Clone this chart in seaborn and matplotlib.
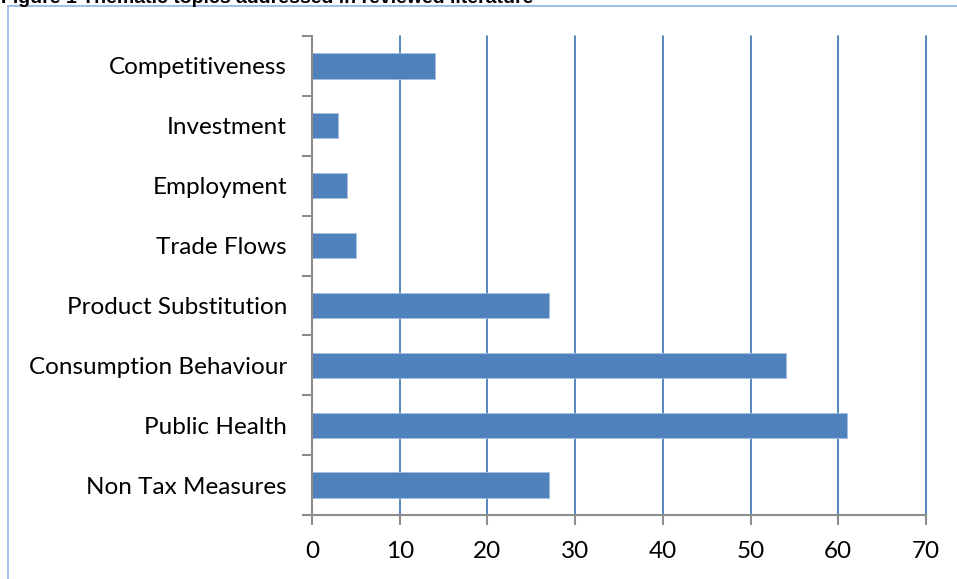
import matplotlib
matplotlib.use("Agg")
import matplotlib.pyplot as plt
import matplotlib.patches as mpatches
from matplotlib.ticker import FixedLocator
import seaborn as sns
import pandas as pd

topics = ["Competitiveness", "Investment", "Employment", "Trade Flows",
          "Product Substitution", "Consumption Behaviour", "Public Health",
          "Non Tax Measures"]
counts = [14, 3, 4, 5, 27, 54, 61, 27]
x_ticks = [0, 10, 20, 30, 40, 50, 60, 70]

df = pd.DataFrame({"topic": topics, "count": counts})

sns.set_theme(style="white")
plt.rcParams["font.family"] = ["Lato", "DejaVu Sans"]

fig = plt.figure(figsize=(9.57, 5.79), dpi=100)
ax = fig.add_axes([312 / 957, 1 - 515 / 579, (926 - 312) / 957, (515 - 36) / 579])

bar_color = "#4F81BD"
grid_color = "#4A7EBB"
axis_gray = "#8C8C8C"

# vertical gridlines behind the bars
for v in x_ticks[1:]:
    ax.axvline(v, color=grid_color, lw=1.3, zorder=0, clip_on=False)

sns.barplot(data=df, x="count", y="topic", order=topics, orient="h",
            color=bar_color, width=0.42, saturation=1, ax=ax, zorder=2,
            edgecolor="#A7C0DE", linewidth=0.6)

ax.set_xlim(0, 70)
ax.set_ylim(7.5, -0.5)
ax.set_xticks(x_ticks)
ax.set_xticklabels([str(v) for v in x_ticks], fontsize=17.5, color="#000000")
ax.set_yticks(range(len(topics)))
ax.set_yticklabels(topics, fontsize=17.5, color="#000000")
ax.set_xlabel("")
ax.set_ylabel("")

# tick marks sit between categories on the y axis
ax.yaxis.set_minor_locator(FixedLocator([i - 0.5 for i in range(len(topics) + 1)]))
ax.tick_params(axis="y", which="major", length=0, pad=18)
ax.tick_params(axis="y", which="minor", length=7, width=1.5, color=axis_gray, left=True, direction="out")
ax.tick_params(axis="x", which="major", length=7, width=1.5, color=axis_gray, bottom=True,
               direction="out", pad=12)

for side in ["top", "right"]:
    ax.spines[side].set_visible(False)
for side in ["left", "bottom"]:
    ax.spines[side].set_color(axis_gray)
    ax.spines[side].set_linewidth(1.5)
    ax.spines[side].set_zorder(3)

# outer chart frame
frame = mpatches.Rectangle((8 / 957, -0.01), 1.0, 1 - 6 / 579 + 0.01,
                           transform=fig.transFigure, fill=False,
                           edgecolor="#8EB4E3", lw=1.2, clip_on=False)
fig.patches.append(frame)

fig.text(0.001, 1 - 3 / 579, "Figure 1 Thematic topics addressed in reviewed literature",
         fontsize=14, fontweight="bold", family=["Liberation Sans", "DejaVu Sans"],
         va="baseline", ha="left", color="#000000")

fig.savefig("out.png", dpi=100)
